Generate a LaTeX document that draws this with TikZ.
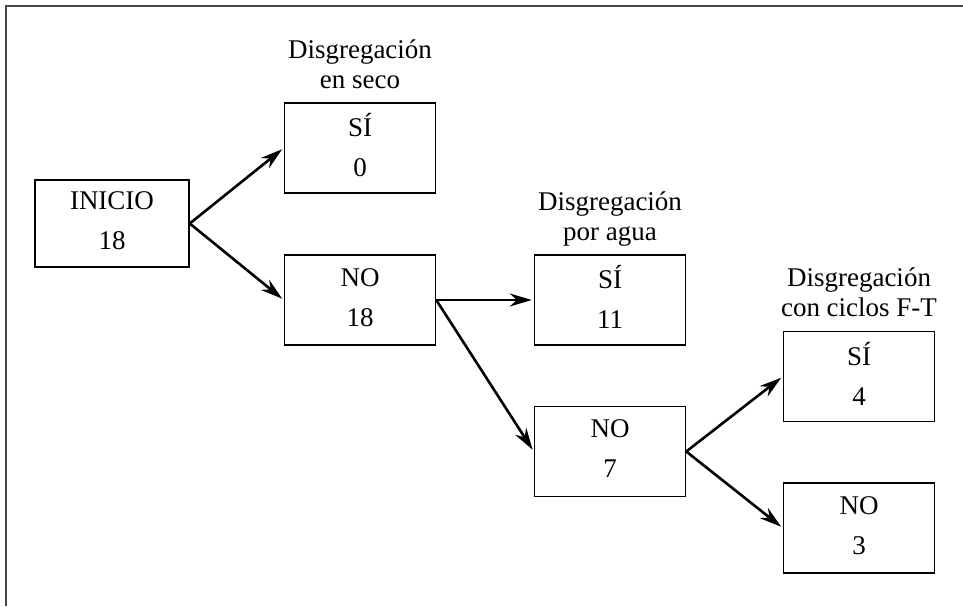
\documentclass[tikz,border=0pt]{standalone}
\usepackage{fontspec}
\setmainfont{Liberation Serif}
\usetikzlibrary{arrows.meta, positioning}

\begin{document}
\begin{tikzpicture}[x=1pt, y=1pt, ->, >={Stealth[length=22pt,width=13pt]}, line width=2.6pt,
    every node/.style={font=\fontsize{27}{30}\selectfont, align=center, inner sep=0pt},
    caja/.style={rectangle, draw, line width=1.5pt, minimum width=151pt, minimum height=90pt,
        execute at begin node={\vphantom{Í}}, execute at end node={\vphantom{g}}},
    etiqueta/.style={execute at end node={\vphantom{g}}}]
                \useasboundingbox (0,0) rectangle (963,606);
                \draw[-, line width=2.6pt, gray!55!black] (963,600) -- (6,600) -- (6,0);
                \node[caja, minimum width=154pt, minimum height=87pt] (inicio) at (112,382.5) {INICIO\\[10pt]18};
                \node[caja] (si1) at (360,458) {SÍ\\[10pt]0};
                \node[caja] (no1) at (360,306) {NO\\[10pt]18};
                \node[caja] (si2) at (610,306) {SÍ\\[10pt]11};
                \node[caja] (no2) at (610,154.5) {NO\\[10pt]7};
                \node[caja] (si3) at (859,229.5) {SÍ\\[10pt]4};
                \node[caja] (no3) at (859,78) {NO\\[10pt]3};
                \node[etiqueta] (seco) [above=7pt of si1] {Disgregación\\en seco};
                \node[etiqueta] (agua) [above=7pt of si2] {Disgregación\\por agua};
                \node[etiqueta] (ciclos) [above=7pt of si3] {Disgregación\\con ciclos F-T};
                \path[shorten >=2pt]
                    (inicio.east) edge (si1.west)
                    (inicio.east) edge (no1.west)
                    (no1.east) edge (si2.west)
                    (no1.east) edge (no2.west)
                    (no2.east) edge (si3.west)
                    (no2.east) edge (no3.west);
            \end{tikzpicture}
\end{document}
